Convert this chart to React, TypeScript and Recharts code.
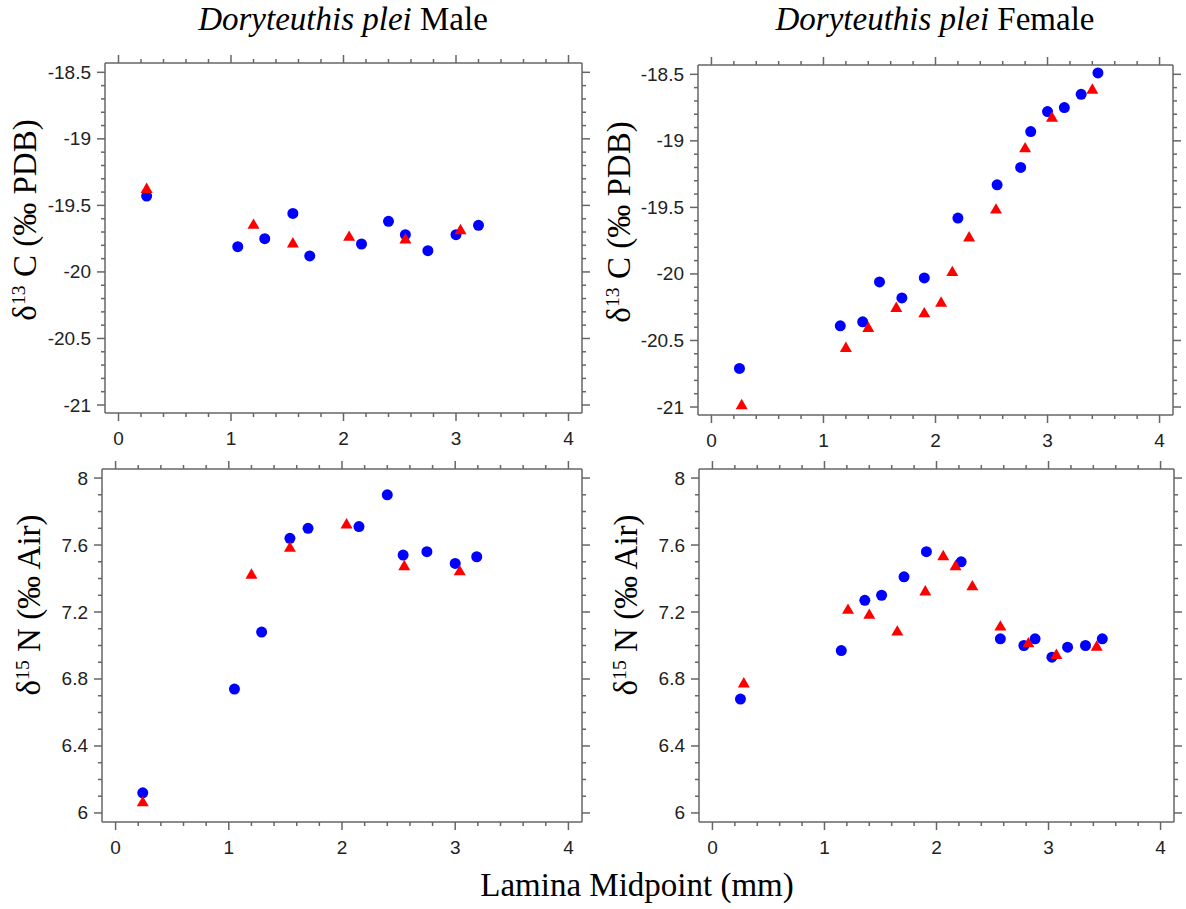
import React from "react";
import { ScatterChart, Scatter, XAxis, YAxis } from "recharts";

type Pt = { x: number; y: number };

// tick labels
const X_MAJOR = [0, 1, 2, 3, 4];
const C_MAJOR = [-21, -20.5, -20, -19.5, -19, -18.5];
const N_MAJOR = [6, 6.4, 6.8, 7.2, 7.6, 8];

const X_DOMAIN: [number, number] = [-0.12, 4.12];
const C_DOMAIN: [number, number] = [-21.06, -18.43];
const N_DOMAIN: [number, number] = [5.946, 8.054];

// Male, d13C
const maleCBlue: Pt[] = [
  { x: 0.25, y: -19.43 }, { x: 1.06, y: -19.81 }, { x: 1.3, y: -19.75 },
  { x: 1.55, y: -19.56 }, { x: 1.7, y: -19.88 }, { x: 2.16, y: -19.79 },
  { x: 2.4, y: -19.62 }, { x: 2.55, y: -19.72 }, { x: 2.75, y: -19.84 },
  { x: 3.0, y: -19.72 }, { x: 3.2, y: -19.65 },
];
const maleCRed: Pt[] = [
  { x: 0.25, y: -19.38 }, { x: 1.2, y: -19.65 }, { x: 1.55, y: -19.79 },
  { x: 2.05, y: -19.74 }, { x: 2.55, y: -19.76 }, { x: 3.04, y: -19.69 },
];

// Female, d13C
const femaleCBlue: Pt[] = [
  { x: 0.25, y: -20.71 }, { x: 1.15, y: -20.39 }, { x: 1.35, y: -20.36 },
  { x: 1.5, y: -20.06 }, { x: 1.7, y: -20.18 }, { x: 1.9, y: -20.03 },
  { x: 2.2, y: -19.58 }, { x: 2.55, y: -19.33 }, { x: 2.76, y: -19.2 },
  { x: 2.85, y: -18.93 }, { x: 3.0, y: -18.78 }, { x: 3.15, y: -18.75 },
  { x: 3.3, y: -18.65 }, { x: 3.45, y: -18.49 },
];
const femaleCRed: Pt[] = [
  { x: 0.27, y: -20.99 }, { x: 1.2, y: -20.56 }, { x: 1.4, y: -20.41 },
  { x: 1.65, y: -20.26 }, { x: 1.9, y: -20.3 }, { x: 2.05, y: -20.22 },
  { x: 2.15, y: -19.99 }, { x: 2.3, y: -19.73 }, { x: 2.54, y: -19.52 },
  { x: 2.8, y: -19.06 }, { x: 3.04, y: -18.83 }, { x: 3.4, y: -18.62 },
];

// Male, d15N
const maleNBlue: Pt[] = [
  { x: 0.24, y: 6.12 }, { x: 1.05, y: 6.74 }, { x: 1.29, y: 7.08 },
  { x: 1.54, y: 7.64 }, { x: 1.7, y: 7.7 }, { x: 2.15, y: 7.71 },
  { x: 2.4, y: 7.9 }, { x: 2.54, y: 7.54 }, { x: 2.75, y: 7.56 },
  { x: 3.0, y: 7.49 }, { x: 3.19, y: 7.53 },
];
const maleNRed: Pt[] = [
  { x: 0.24, y: 6.06 }, { x: 1.2, y: 7.42 }, { x: 1.54, y: 7.58 },
  { x: 2.04, y: 7.72 }, { x: 2.55, y: 7.47 }, { x: 3.04, y: 7.44 },
];

// Female, d15N
const femaleNBlue: Pt[] = [
  { x: 0.25, y: 6.68 }, { x: 1.15, y: 6.97 }, { x: 1.36, y: 7.27 },
  { x: 1.51, y: 7.3 }, { x: 1.71, y: 7.41 }, { x: 1.91, y: 7.56 },
  { x: 2.22, y: 7.5 }, { x: 2.57, y: 7.04 }, { x: 2.78, y: 7.0 },
  { x: 2.88, y: 7.04 }, { x: 3.03, y: 6.93 }, { x: 3.17, y: 6.99 },
  { x: 3.33, y: 7.0 }, { x: 3.48, y: 7.04 },
];
const femaleNRed: Pt[] = [
  { x: 0.28, y: 6.77 }, { x: 1.21, y: 7.21 }, { x: 1.4, y: 7.18 },
  { x: 1.65, y: 7.08 }, { x: 1.9, y: 7.32 }, { x: 2.06, y: 7.53 },
  { x: 2.17, y: 7.47 }, { x: 2.32, y: 7.35 }, { x: 2.57, y: 7.11 },
  { x: 2.82, y: 7.01 }, { x: 3.07, y: 6.94 }, { x: 3.43, y: 6.99 },
];

const AXIS = "#666";
const TICK_TXT = "#222";
const SANS = '"Liberation Sans", Arial, Helvetica, sans-serif';
const SERIF = '"Liberation Serif", "Times New Roman", serif';

// minor tick positions (every step between the major labels)
function steps(from: number, to: number, step: number) {
  const out: number[] = [];
  const n = Math.round((to - from) / step);
  for (let i = 0; i <= n; i++) out.push(+(from + i * step).toFixed(3));
  return out;
}
const X_TICKS = steps(0, 4, 0.2);
const C_TICKS = steps(-21, -18.5, 0.1);
const N_TICKS = steps(6, 8, 0.1);

type Side = "top" | "bottom" | "left" | "right";

function makeTick(side: Side, majors: number[], showLabel: boolean) {
  return (props: any) => {
    const { x, y, payload } = props;
    const v = payload.value;
    const major = majors.some((m) => Math.abs(m - v) < 1e-6);
    const len = major ? 8 : 4;
    const txt = { fontFamily: SANS, fontSize: 19, fill: TICK_TXT };
    if (side === "bottom") {
      return (
        <g>
          <line x1={x} x2={x} y1={y} y2={y + len} stroke={AXIS} strokeWidth={1.5} />
          {showLabel && major && (
            <text x={x} y={y + 25} textAnchor="middle" dominantBaseline="central" {...txt}>
              {String(v)}
            </text>
          )}
        </g>
      );
    }
    if (side === "top") {
      return <line x1={x} x2={x} y1={y} y2={y - len} stroke={AXIS} strokeWidth={1.5} />;
    }
    if (side === "left") {
      return (
        <g>
          <line x1={x} x2={x - len} y1={y} y2={y} stroke={AXIS} strokeWidth={1.5} />
          {showLabel && major && (
            <text x={x - 14} y={y} textAnchor="end" dominantBaseline="central" {...txt}>
              {String(v)}
            </text>
          )}
        </g>
      );
    }
    return <line x1={x} x2={x + len} y1={y} y2={y} stroke={AXIS} strokeWidth={1.5} />;
  };
}

const circleShape = (p: any) => <circle cx={p.cx} cy={p.cy} r={5.5} fill="#0000ff" />;
const triShape = (p: any) => {
  const s = 12;
  const h = (s * Math.sqrt(3)) / 2;
  const pts = `${p.cx},${p.cy - (2 * h) / 3} ${p.cx - s / 2},${p.cy + h / 3} ${p.cx + s / 2},${p.cy + h / 3}`;
  return <polygon points={pts} fill="#ff0000" />;
};
const noShape = () => <g />;

type PanelProps = {
  left: number;
  top: number;
  width: number;
  height: number;
  yDomain: [number, number];
  yMajor: number[];
  yTicks: number[];
  blue: Pt[];
  red: Pt[];
};

function Panel({ left, top, width, height, yDomain, yMajor, yTicks, blue, red }: PanelProps) {
  const padL = 70, padR = 20, padT = 20, padB = 40;
  const line = { stroke: AXIS, strokeWidth: 1.5 };
  return (
    <div style={{ position: "absolute", left: left - padL, top: top - padT }}>
      <ScatterChart
        width={width + padL + padR}
        height={height + padT + padB}
        margin={{ top: 0, right: 0, bottom: 0, left: 0 }}
      >
        <XAxis xAxisId="b" type="number" dataKey="x" domain={X_DOMAIN} allowDataOverflow
          ticks={X_TICKS} interval={0} orientation="bottom" height={padB}
          tickSize={0} tickMargin={0} tickLine={false} axisLine={line}
          tick={makeTick("bottom", X_MAJOR, true)} />
        <XAxis xAxisId="t" type="number" dataKey="x" domain={X_DOMAIN} allowDataOverflow
          ticks={X_TICKS} interval={0} orientation="top" height={padT}
          tickSize={0} tickMargin={0} tickLine={false} axisLine={line}
          tick={makeTick("top", X_MAJOR, false)} />
        <YAxis yAxisId="l" type="number" dataKey="y" domain={yDomain} allowDataOverflow
          ticks={yTicks} interval={0} orientation="left" width={padL}
          tickSize={0} tickMargin={0} tickLine={false} axisLine={line}
          tick={makeTick("left", yMajor, true)} />
        <YAxis yAxisId="r" type="number" dataKey="y" domain={yDomain} allowDataOverflow
          ticks={yTicks} interval={0} orientation="right" width={padR}
          tickSize={0} tickMargin={0} tickLine={false} axisLine={line}
          tick={makeTick("right", yMajor, false)} />
        <Scatter xAxisId="t" yAxisId="r" data={blue} shape={noShape} isAnimationActive={false} />
        <Scatter xAxisId="b" yAxisId="l" data={blue} shape={circleShape} isAnimationActive={false} />
        <Scatter xAxisId="b" yAxisId="l" data={red} shape={triShape} isAnimationActive={false} />
      </ScatterChart>
    </div>
  );
}

const serifText: React.CSSProperties = {
  position: "absolute",
  fontFamily: SERIF,
  fontSize: 33,
  color: "#000",
  whiteSpace: "nowrap",
  lineHeight: 1,
};

function Title({ cx, cy, sex }: { cx: number; cy: number; sex: string }) {
  return (
    <div style={{ ...serifText, left: cx, top: cy, transform: "translate(-50%, -50%)" }}>
      <i>Doryteuthis plei</i> {sex}
    </div>
  );
}

function YLabel({ cx, cy, iso, el, std }: { cx: number; cy: number; iso: string; el: string; std: string }) {
  return (
    <div
      style={{
        ...serifText,
        left: cx,
        top: cy,
        transform: "translate(-50%, -50%) rotate(-90deg)",
      }}
    >
      δ<sup style={{ fontSize: "0.6em", verticalAlign: "0.55em", lineHeight: 0 }}>{iso}</sup> {el} (‰ {std})
    </div>
  );
}

export default function App() {
  return (
    <div style={{ position: "absolute", left: 0, top: 0, width: 1186, height: 909, background: "#fff" }}>
      <Title cx={343} cy={19} sex="Male" />
      <Title cx={935} cy={19} sex="Female" />

      <YLabel cx={25} cy={220} iso="13" el="C" std="PDB" />
      <YLabel cx={619} cy={222} iso="13" el="C" std="PDB" />
      <YLabel cx={29} cy={605} iso="15" el="N" std="Air" />
      <YLabel cx={626} cy={605} iso="15" el="N" std="Air" />

      <Panel left={105} top={63} width={477} height={350} yDomain={C_DOMAIN}
        yMajor={C_MAJOR} yTicks={C_TICKS} blue={maleCBlue} red={maleCRed} />
      <Panel left={698} top={65} width={475} height={350} yDomain={C_DOMAIN}
        yMajor={C_MAJOR} yTicks={C_TICKS} blue={femaleCBlue} red={femaleCRed} />
      <Panel left={102} top={469} width={480} height={353} yDomain={N_DOMAIN}
        yMajor={N_MAJOR} yTicks={N_TICKS} blue={maleNBlue} red={maleNRed} />
      <Panel left={699} top={469} width={475} height={353} yDomain={N_DOMAIN}
        yMajor={N_MAJOR} yTicks={N_TICKS} blue={femaleNBlue} red={femaleNRed} />

      <div style={{ ...serifText, left: 637, top: 885, transform: "translate(-50%, -50%)" }}>
        Lamina Midpoint (mm)
      </div>
    </div>
  );
}
